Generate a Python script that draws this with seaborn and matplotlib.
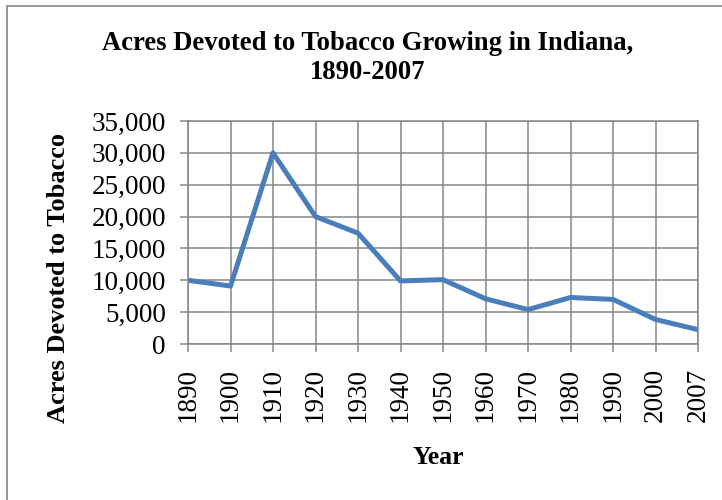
import matplotlib
matplotlib.use("Agg")
import matplotlib.pyplot as plt
import matplotlib.ticker as mticker
from matplotlib.patches import Rectangle
import pandas as pd
import seaborn as sns

# Data
years = ["1890", "1900", "1910", "1920", "1930", "1940", "1950",
         "1960", "1970", "1980", "1990", "2000", "2007"]
acres = [10000, 9100, 30000, 20000, 17400, 9900, 10100,
         7100, 5400, 7300, 7000, 3850, 2250]
y_ticks = [0, 5000, 10000, 15000, 20000, 25000, 30000, 35000]

df = pd.DataFrame({"Year": years, "Acres": acres})

sns.set_theme(style="white")
plt.rcParams["font.family"] = ["Liberation Serif", "DejaVu Serif"]
plt.rcParams["text.color"] = "black"

W, H = 722, 500
fig = plt.figure(figsize=(W / 100, H / 100), dpi=100)
ax = fig.add_axes([188 / W, 1 - 344 / H, 510 / W, 223 / H])

grey = "#868686"
sns.lineplot(data=df, x="Year", y="Acres", ax=ax, color="#4a7ebb",
             linewidth=3.6, sort=False)

ax.set_xlim(0, len(years) - 1)
ax.set_ylim(0, 35000)
ax.set_yticks(y_ticks)
ax.yaxis.set_major_formatter(mticker.FuncFormatter(lambda v, p: f"{int(v):,}"))
ax.grid(True, color=grey, linewidth=1.1)
for s in ax.spines.values():
    s.set_color(grey)
    s.set_linewidth(1.1)
ax.tick_params(axis="both", which="major", direction="out", length=6,
               width=1.1, color=grey, labelsize=19.5, labelcolor="black")
ax.tick_params(axis="y", pad=10, left=True)
ax.tick_params(axis="x", pad=11, bottom=True, labelrotation=90)
ax.set_xlabel("")
ax.set_ylabel("")

# titles placed like the reference
fig.text(368 / W, 1 - 58 / H, "Acres Devoted to Tobacco Growing in Indiana,\n1890-2007",
         ha="center", va="center", fontsize=19.2, fontweight="bold",
         linespacing=1.2, color="black")
fig.text(59 / W, 1 - 278 / H, "Acres Devoted to Tobacco", rotation=90,
         ha="center", va="center", fontsize=19, fontweight="bold",
         color="black")
fig.text(438 / W, 1 - 457 / H, "Year", ha="center", va="center",
         fontsize=18.5, fontweight="bold", color="black")

# chart border
fig.patches.append(Rectangle((7 / W, -0.1), 1.2, 1 - 6 / H + 0.1,
                             transform=fig.transFigure, fill=False,
                             edgecolor=grey, linewidth=1.2))

fig.savefig("out.png", dpi=100)
